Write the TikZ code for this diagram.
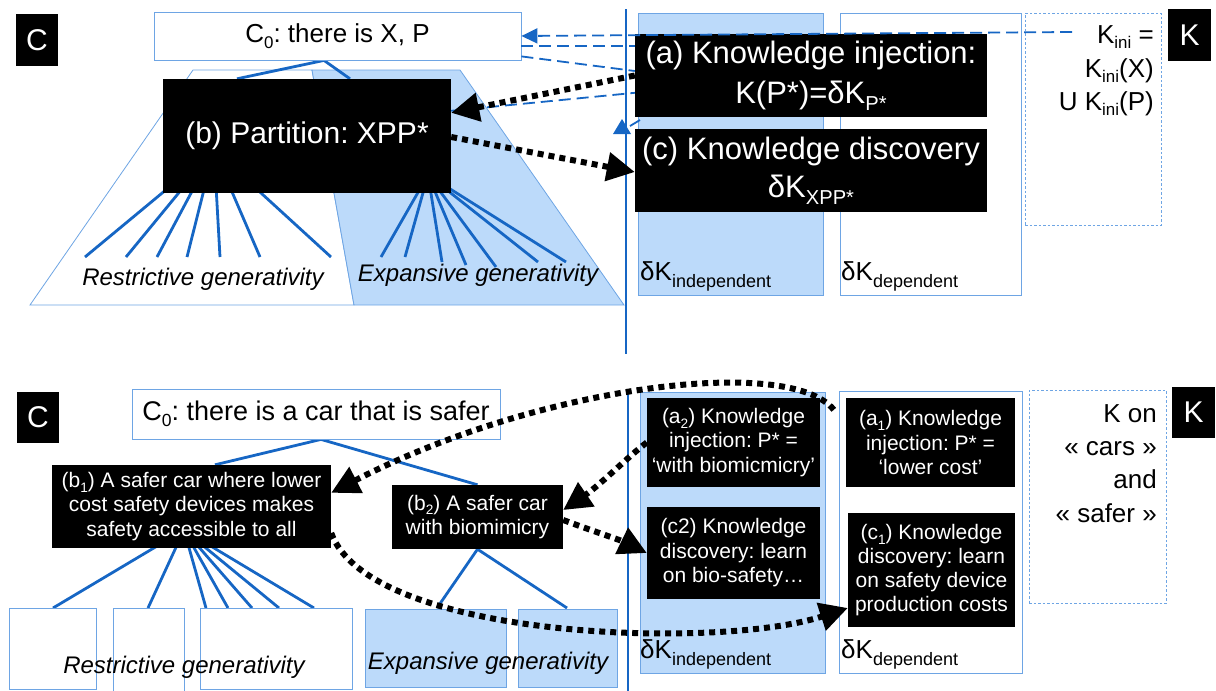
\documentclass[tikz,border=0pt]{standalone}
\usepackage{fontspec}
\setmainfont{Liberation Sans}
\usepackage{graphicx}
\usetikzlibrary{arrows.meta,backgrounds}
\newcommand{\lsub}[1]{\raisebox{-0.22em}{\scalebox{0.65}{#1}}}
\newcommand{\myfs}[1]{\fontsize{#1}{#1}\selectfont}
\newcommand{\myfsl}[2]{\fontsize{#1}{#2}\selectfont}
\newcommand{\dK}[1]{δK\raisebox{-0.27em}{\myfs{18}#1}}
\definecolor{lb}{RGB}{188,218,250}
\definecolor{bd}{RGB}{110,165,228}
\definecolor{ln}{RGB}{22,102,196}
\begin{document}
\frenchspacing
\begin{tikzpicture}[x=1pt,y=-1pt,
 blk/.style={fill=black,text=white,inner sep=0pt,align=center},
 wbox/.style={draw=bd,line width=0.8pt,fill=white,inner sep=0pt},
 bbox/.style={draw=bd,line width=0.8pt,fill=lb,inner sep=0pt},
 dbox/.style={draw=bd,line width=0.8pt,dash pattern=on 2.5pt off 2pt,inner sep=0pt},
 tree/.style={ln,line width=2.8pt},
 vline/.style={ln,line width=1.4pt},
 dsh/.style={ln,line width=1.8pt,dash pattern=on 12pt off 6pt},
 dotar/.style={line width=6pt,dash pattern=on 6pt off 5pt,-{Triangle[length=28pt,width=28pt]}},
 lbl/.style={inner sep=0pt,font={\myfs{24}\itshape}},
 ktxt/.style={inner sep=0pt,anchor=base east,font={\myfs{26}}},
 dk/.style={inner sep=0pt,anchor=base west,font={\myfs{26}}},
 sz/.style 2 args={minimum width=#1pt,minimum height=#2pt},
]
\useasboundingbox (0,0) rectangle (1216,691);

% ---------- vertical separators
\coordinate (v1a) at (626,9); \coordinate (v1b) at (626,354);
\coordinate (v2a) at (628,390); \coordinate (v2b) at (628,691);
\draw[vline] (v1a) -- (v1b);
\draw[vline] (v2a) -- (v2b);

% ---------- top: K side
\node[bbox,sz={185}{282}] (indTop) at (730.5,154) {};
\node[wbox,sz={181}{282}] (depTop) at (930.5,154) {};
\node[dbox,sz={136}{212}] (kiniBox) at (1093,119) {};
\node[blk,sz={43}{52},font={\myfs{30}}] (Ktop) at (1189.5,35) {K};
\node[dk] (dkiT) at (640,280) {\dK{independent}};
\node[dk] (dkdT) at (841,280) {\dK{dependent}};
\node[ktxt] (ki1) at (1154,43) {K\lsub{ini} =};
\node[ktxt] (ki2) at (1154,77) {K\lsub{ini}(X)};
\node[ktxt] (ki3) at (1154,110) {U K\lsub{ini}(P)};

% ---------- top: C side
\node[blk,sz={42}{52},font={\myfs{30}}] (Ctop) at (37,40) {C};
\node[wbox,sz={367}{48},font={\myfs{26}}] (C0top) at (337.5,36) {C\lsub{0}: there is X, P};
\node[blk,sz={288}{114},font={\myfs{30}}] (bTop) at (307,136) {(b) Partition: XPP*};
\node[blk,sz={352}{83},font={\myfsl{31}{40}}] (aTop) at (811,75.5) {(a) Knowledge injection:\\K(P*)=δK\lsub{P*}};
\node[blk,sz={352}{83},font={\myfsl{31}{38}}] (cTop) at (811,170.5) {(c) Knowledge discovery\\δK\lsub{XPP*}};

% ---------- bottom: K side
\node[bbox,sz={185}{281}] (indBot) at (732.5,532.5) {};
\node[wbox,sz={183}{282}] (depBot) at (930.5,532) {};
\node[dbox,sz={137}{213}] (kBox) at (1097.5,496.5) {};
\node[blk,sz={43}{51},font={\myfs{30}}] (Kbot) at (1193.5,412.5) {K};
\node[dk] (dkiB) at (640,658) {\dK{independent}};
\node[dk] (dkdB) at (841,658) {\dK{dependent}};
\node[ktxt] (kb1) at (1157,422) {K on};
\node[ktxt] (kb2) at (1157,455) {« cars »};
\node[ktxt] (kb3) at (1157,488) {and};
\node[ktxt] (kb4) at (1157,522) {« safer »};
\node[blk,sz={173}{89},font={\myfsl{21}{24.5}}] (a2) at (733.5,442.5) {(a\lsub{2}) Knowledge\\injection: P* =\\‘with biomicmicry’};
\node[blk,sz={169}{89},font={\myfsl{21}{24.5}}] (a1) at (930.5,442.5) {(a\lsub{1}) Knowledge\\injection: P* =\\‘lower cost’};
\node[blk,sz={173}{92},font={\myfsl{21}{24.5}}] (c2) at (733.5,553) {(c2) Knowledge\\discovery: learn\\on bio-safety…};
\node[blk,sz={167}{114},font={\myfsl{21}{24}}] (c1) at (931.5,570) {(c\lsub{1}) Knowledge\\discovery: learn\\on safety device\\production costs};

% ---------- bottom: C side
\node[blk,sz={42}{51},font={\myfs{30}}] (Cbot) at (38,417.5) {C};
\node[wbox,sz={368}{50},font={\myfs{27}}] (C0bot) at (316,414) {C\lsub{0}: there is a car that is safer};
\node[blk,sz={279}{83},font={\myfsl{21}{24.5}}] (b1) at (191.5,506.5) {(b\lsub{1}) A safer car where lower\\cost safety devices makes\\safety accessible to all};
\node[blk,sz={171}{64},font={\myfsl{21}{24.5}}] (b2) at (477.5,517) {(b\lsub{2}) A safer car\\with biomimicry};
\node[wbox,sz={87}{81}] (L1) at (52.5,648.5) {};
\node[wbox,sz={71}{83}] (L2) at (148.5,649.5) {};
\node[wbox,sz={152}{81}] (L3) at (276,648.5) {};
\node[bbox,sz={141}{78}] (E1) at (435.5,648) {};
\node[bbox,sz={99}{78}] (E2) at (567.5,648) {};
\node[lbl] (rgB) at (184,667) {Restrictive generativity};
\node[lbl] (egB) at (488,663) {Expansive generativity};

% ---------- background: trapezoids and trees
\begin{scope}[on background layer]
\filldraw[fill=white,draw=bd,line width=0.8pt] (193,70)--(312,70)--(354,305)--(30,305)--cycle;
\filldraw[fill=lb,draw=bd,line width=0.8pt] (312,70)--(460,70)--(624,305)--(354,305)--cycle;
\draw[tree] ([xshift=-13.5pt]C0top.south) -- ([xshift=-70pt]bTop.north);
\draw[tree] ([xshift=-13.5pt]C0top.south) -- ([xshift=43pt]bTop.north);
\coordinate (rh) at (214,150);
\foreach \x/\y [count=\i] in {85/257,126/257,157/257,187/257,220/257,260/257,331/257}
  {\coordinate (r\i) at (\x,\y); \draw[tree] (rh) -- (r\i);}
\coordinate (eh) at (428,175);
\foreach \x/\y [count=\i] in {381/257,405/257,442/262,466/265,496/267,538/262,566/262}
  {\coordinate (e\i) at (\x,\y); \draw[tree] (eh) -- (e\i);}
\draw[tree] ([xshift=5pt]C0bot.south) -- ([xshift=23.5pt]b1.north);
\draw[tree] ([xshift=5pt]C0bot.south) -- (b2.north);
\coordinate (bh) at (184,530);
\foreach \x/\y [count=\i] in {53/608,148/608,206/608,228/608,252/608,279/608,314/608}
  {\coordinate (s\i) at (\x,\y); \draw[tree] (bh) -- (s\i);}
\coordinate (t1) at (437,608); \coordinate (t2) at (567,608);
\draw[tree] (b2.south) -- (t1);
\draw[tree] (b2.south) -- (t2);
\end{scope}
\node[lbl] (rgT) at (203,279) {Restrictive generativity};
\node[lbl] (egT) at (478,275) {Expansive generativity};

% ---------- dashed blue connectors (top)
\coordinate (kd) at (1072,32);
\draw[dsh,-{Triangle[length=16pt,width=15pt]}] (kd) -- (C0top.east);
\draw[dsh] ([yshift=-10pt]C0top.east) -- ([yshift=29.5pt]aTop.west);
\draw[dsh] ([yshift=4pt]C0top.south east) -- ([yshift=4.5pt]aTop.west);
\draw[dsh] ([yshift=-32pt]bTop.north east) -- ([yshift=-59pt]aTop.north west);
\coordinate (d5a) at (640,120); \coordinate (d5b) at (630,126);
\draw[ln,line width=1.8pt] (d5a) -- (d5b);
\fill[ln] (613,134) -- (631,134) -- (622,119) -- cycle;

% ---------- dotted black arrows
\draw[dotar] (aTop.west) -- ([yshift=-34pt]bTop.north east);
\draw[dotar] ([yshift=-1pt]bTop.east) -- ([yshift=-1.5pt]cTop.west);
\draw[dotar] ([xshift=-12pt,yshift=-12pt]a1.north west) .. controls (790,355) and (540,385) .. ([yshift=-28pt]b1.north east);
\draw[dotar] (a2.west) .. controls (630,455) and (600,485) .. ([yshift=7pt]b2.east);
\draw[dotar] ([yshift=-3pt]b2.east) .. controls (590,530) and (620,540) .. (c2.west);
\draw[dotar] ([yshift=-26.5pt]b1.east) .. controls (370,640) and (720,650) .. ([yshift=-38pt]c1.west);
\end{tikzpicture}
\end{document}
